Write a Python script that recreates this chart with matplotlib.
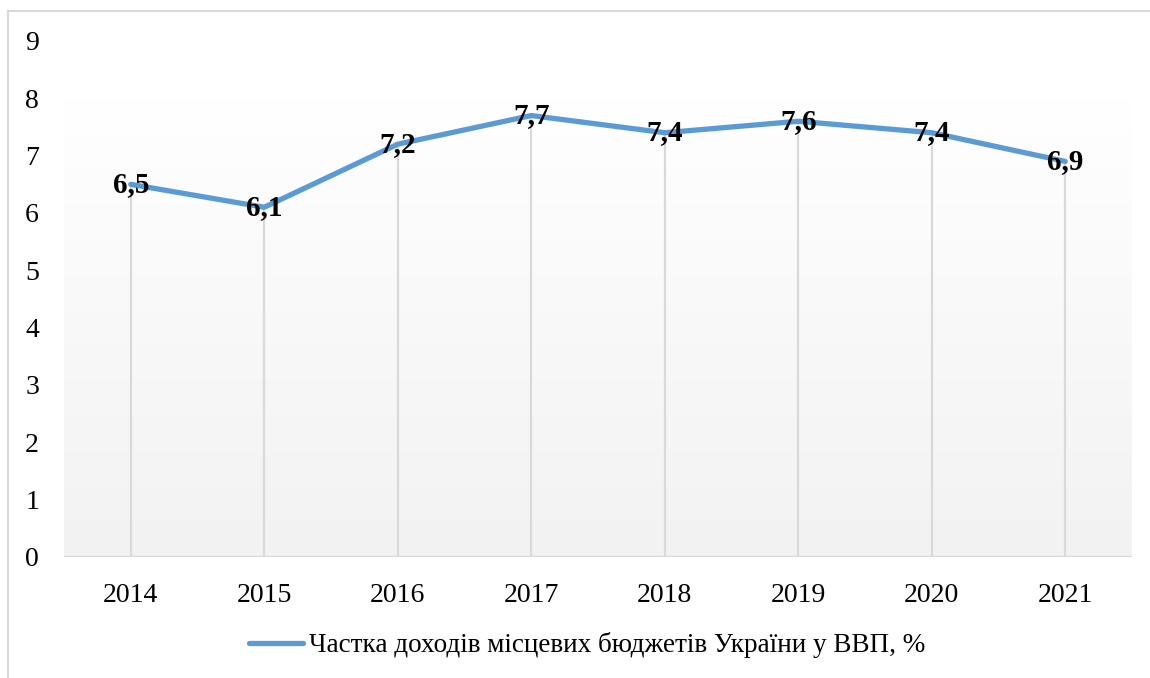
import matplotlib
matplotlib.use("Agg")
import matplotlib.pyplot as plt
import numpy as np
from matplotlib.lines import Line2D

years = ["2014", "2015", "2016", "2017", "2018", "2019", "2020", "2021"]
values = [6.5, 6.1, 7.2, 7.7, 7.4, 7.6, 7.4, 6.9]
value_labels = ["6,5", "6,1", "7,2", "7,7", "7,4", "7,6", "7,4", "6,9"]
series_name = "Частка доходів місцевих бюджетів України у ВВП, %"
yticks = [0, 1, 2, 3, 4, 5, 6, 7, 8, 9]

plt.rcParams['font.family'] = ['Liberation Serif', 'DejaVu Serif']

W, H = 1150, 678
fig = plt.figure(figsize=(W / 100, H / 100), dpi=100)
ax = fig.add_axes([64 / W, 1 - 557 / H, (1132 - 64) / W, (557 - 41) / H])

x = np.arange(len(years))

# gradient plot-area fill (0..8), white at top -> light gray at bottom
grad = np.linspace(0, 1, 256).reshape(-1, 1)
top = np.array([1.0, 1.0, 1.0])
bot = np.array([0xF2, 0xF2, 0xF2]) / 255
img = top + (bot - top) * grad[:, :, None] * np.ones((1, 2, 1))
ax.imshow(img, extent=[-0.5, len(years) - 0.5, 0, 8], aspect='auto',
          origin='upper', zorder=0, interpolation='bilinear')

# drop lines
ax.vlines(x, 0, values, color='#D9D9D9', lw=1.6, zorder=1)
ax.axhline(0, color='#D9D9D9', lw=1.6, zorder=1)

ax.plot(x, values, color='#5B9BD5', lw=3.8, solid_capstyle='round',
        solid_joinstyle='round', zorder=2)

for xi, v, lab in zip(x, values, value_labels):
    ax.text(xi, v, lab, ha='center', va='center', fontsize=21,
            fontweight='bold', color='black', zorder=3)

ax.set_xlim(-0.5, len(years) - 0.5)
ax.set_ylim(0, 9)
ax.set_xticks(x)
ax.set_xticklabels(years, fontsize=20)
ax.set_yticks(yticks)
ax.set_yticklabels([str(t) for t in yticks], fontsize=20)
ax.tick_params(axis='both', length=0)
ax.tick_params(axis='y', pad=18)
ax.tick_params(axis='x', pad=19)
for s in ax.spines.values():
    s.set_visible(False)
ax.set_facecolor('white')

handle = Line2D([], [], color='#5B9BD5', lw=3.8, solid_capstyle='round')
fig.legend([handle], [series_name], loc='center',
           bbox_to_anchor=(587 / W, 1 - 645 / H), frameon=False,
           fontsize=19.5, handlelength=2.0, handletextpad=0.2)

# figure border (left and top)
fig.add_artist(Line2D([8 / W, 8 / W], [0, 1 - 11 / H], color='#D9D9D9', lw=1.5,
                      transform=fig.transFigure))
fig.add_artist(Line2D([8 / W, 1], [1 - 11 / H, 1 - 11 / H], color='#D9D9D9', lw=1.5,
                      transform=fig.transFigure))

fig.savefig("out.png", dpi=100)
